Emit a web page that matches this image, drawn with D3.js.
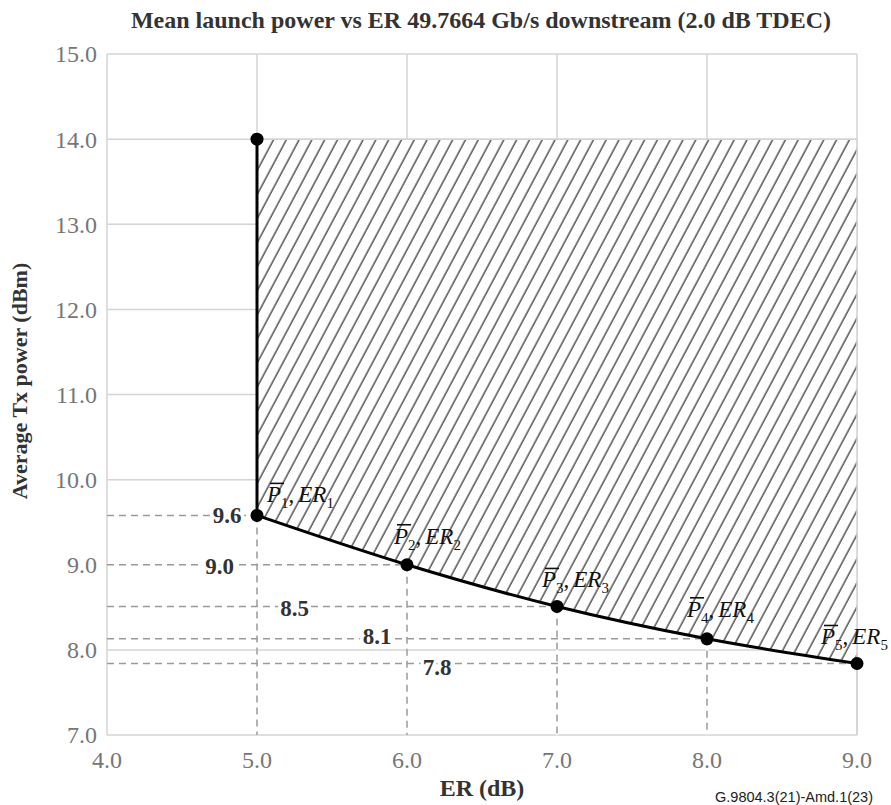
<!DOCTYPE html>
<html lang="en">
<head>
  <meta charset="UTF-8">
  <title>Mean launch power vs ER</title>
  <script src="https://d3js.org/d3.v7.min.js"></script>
  <style>
    body { margin: 0; background: #fff; }
    text { font-family: "Liberation Serif", "Times New Roman", serif; }
  </style>
</head>
<body>
<div class="canvas"></div>
<script>
  // ER (dB) and mean launch power (dBm) of the corner points P1..P5
  const erValues = [5.0, 6.0, 7.0, 8.0, 9.0]
  const powerValues = [9.58, 9.0, 8.51, 8.13, 7.84]
  const powerLabels = ['9.6', '9.0', '8.5', '8.1', '7.8']
  const maxPower = 14.0
  const xTicks = [4, 5, 6, 7, 8, 9]
  const yTicks = [7, 8, 9, 10, 11, 12, 13, 14, 15]

  // where the value labels sit along their dashed guide (in ER units)
  const labelER = [4.8, 4.75, 5.25, 5.8, 6.2]
  const labelDy = [0, 1, 1, -3, 3]
  // offset of each P/ER annotation from its point (px)
  const annOffset = [[10, -13], [-13, -21], [-15, -19], [-20, -22], [-36, -19]]

  const width = 891, height = 805
  const margin = {top: 54, right: 34, bottom: 70, left: 107}
  const gridColor = '#d4d4d4'

  const svg = d3.select('.canvas')
    .append('svg')
    .attr('width', width)
    .attr('height', height)

  const x = d3.scaleLinear().domain([4, 9]).range([margin.left, width - margin.right])
  const y = d3.scaleLinear().domain([7, 15]).range([height - margin.bottom, margin.top])

  // hatch pattern
  svg.append('defs').append('pattern')
    .attr('id', 'hatch')
    .attr('patternUnits', 'userSpaceOnUse')
    .attr('width', 11.3)
    .attr('height', 20)
    .attr('patternTransform', 'rotate(28)')
    .append('line')
    .attr('x1', 2).attr('y1', -5).attr('x2', 2).attr('y2', 25)
    .attr('stroke', '#2a2a2a')
    .attr('stroke-width', 1.2)

  // grid
  svg.append('g').selectAll('line')
    .data(xTicks)
    .enter().append('line')
    .attr('x1', d => x(d)).attr('x2', d => x(d))
    .attr('y1', y(15)).attr('y2', y(7))
    .attr('stroke', gridColor).attr('stroke-width', 1.5)

  svg.append('g').selectAll('line')
    .data(yTicks)
    .enter().append('line')
    .attr('x1', x(4)).attr('x2', x(9))
    .attr('y1', d => y(d)).attr('y2', d => y(d))
    .attr('stroke', gridColor).attr('stroke-width', 1.5)

  // tick labels
  svg.append('g').selectAll('text')
    .data(xTicks)
    .enter().append('text')
    .attr('x', d => x(d))
    .attr('y', y(7) + 33)
    .attr('text-anchor', 'middle')
    .attr('fill', '#767676')
    .style('font-size', '24px')
    .text(d => d3.format('.1f')(d))

  svg.append('g').selectAll('text')
    .data(yTicks)
    .enter().append('text')
    .attr('x', x(4) - 10)
    .attr('y', d => y(d))
    .attr('dy', '0.35em')
    .attr('text-anchor', 'end')
    .attr('fill', '#767676')
    .style('font-size', '24px')
    .text(d => d3.format('.1f')(d))

  const pts = erValues.map((e, i) => ({er: e, p: powerValues[i]}))

  // hatched region above the curve (white under the hatch hides the grid)
  const curve = d3.line().x(d => x(d.er)).y(d => y(d.p)).curve(d3.curveMonotoneX)
  const last = pts[pts.length - 1]
  const areaPath = 'M' + x(erValues[0]) + ',' + y(maxPower) +
    'L' + x(last.er) + ',' + y(maxPower) +
    'L' + x(last.er) + ',' + y(last.p) +
    curve(pts.slice().reverse()).replace(/^M/, 'L') + 'Z'
  svg.append('path').attr('d', areaPath).attr('fill', '#fff')
  svg.append('path').attr('d', areaPath).attr('fill', 'url(#hatch)')
  svg.append('path')
    .attr('d', 'M' + x(erValues[0]) + ',' + y(maxPower) +
      'L' + x(last.er) + ',' + y(maxPower) + 'L' + x(last.er) + ',' + y(7))
    .attr('fill', 'none')
    .attr('stroke', gridColor).attr('stroke-width', 1.5)

  // dashed guides
  function guideLines(g) {
    g.selectAll('.h').data(pts).enter().append('line')
      .attr('x1', x(4)).attr('x2', d => x(d.er))
      .attr('y1', d => y(d.p)).attr('y2', d => y(d.p))
    g.selectAll('.v').data(pts.slice(0, -1)).enter().append('line')
      .attr('x1', d => x(d.er)).attr('x2', d => x(d.er))
      .attr('y1', d => y(d.p)).attr('y2', y(7))
  }
  svg.append('g').attr('stroke', '#fff').attr('stroke-width', 2).call(guideLines)
  svg.append('g')
    .attr('stroke', '#9a9a9a')
    .attr('stroke-width', 1.5)
    .attr('stroke-dasharray', '7,5')
    .call(guideLines)

  // value labels
  svg.append('g').selectAll('text')
    .data(pts)
    .enter().append('text')
    .attr('x', (d, i) => x(labelER[i]))
    .attr('y', (d, i) => y(d.p) + labelDy[i])
    .attr('dy', '0.35em')
    .attr('text-anchor', 'middle')
    .attr('fill', '#333')
    .attr('stroke', '#fff')
    .attr('stroke-width', 7)
    .style('paint-order', 'stroke')
    .style('font-size', '23px')
    .style('font-weight', 'bold')
    .text((d, i) => powerLabels[i])

  // curve line and vertical boundary
  svg.append('line')
    .attr('x1', x(erValues[0])).attr('x2', x(erValues[0]))
    .attr('y1', y(maxPower)).attr('y2', y(powerValues[0]))
    .attr('stroke', '#000').attr('stroke-width', 3)
  svg.append('path')
    .attr('d', curve(pts))
    .attr('fill', 'none')
    .attr('stroke', '#000')
    .attr('stroke-width', 3)

  // points
  svg.append('g').selectAll('circle')
    .data([{er: erValues[0], p: maxPower}].concat(pts))
    .enter().append('circle')
    .attr('cx', d => x(d.er))
    .attr('cy', d => y(d.p))
    .attr('r', 6.5)
    .attr('fill', '#000')

  // P/ER annotations
  const annG = svg.append('g')
  const ann = annG.selectAll('text')
    .data(pts)
    .enter().append('text')
    .attr('x', (d, i) => x(d.er) + annOffset[i][0])
    .attr('y', (d, i) => y(d.p) + annOffset[i][1])
    .attr('fill', '#111')
    .style('font-size', '23px')
  ann.append('tspan').style('font-style', 'italic').text('P')
  ann.append('tspan').attr('dy', 6).style('font-size', '15px').text((d, i) => i + 1)
  ann.append('tspan').attr('dy', -6).text(',')
  ann.append('tspan').attr('dx', 4).style('font-style', 'italic').text('ER')
  ann.append('tspan').attr('dy', 6).style('font-size', '15px').text((d, i) => i + 1)
  // bar over each P
  ann.each(function(d, i) {
    const s = this.getStartPositionOfChar(0)
    const e = this.getEndPositionOfChar(0)
    annG.append('line')
      .attr('x1', s.x + 3).attr('x2', e.x + 3)
      .attr('y1', s.y - 19).attr('y2', s.y - 19)
      .attr('stroke', '#111').attr('stroke-width', 1.6)
  })

  // title and axis titles
  svg.append('text')
    .attr('x', 481).attr('y', 28)
    .attr('text-anchor', 'middle')
    .attr('fill', '#333')
    .style('font-size', '24px').style('font-weight', 'bold')
    .text('Mean launch power vs ER 49.7664 Gb/s downstream (2.0 dB TDEC)')

  svg.append('text')
    .attr('x', (x(4) + x(9)) / 2).attr('y', 796)
    .attr('text-anchor', 'middle')
    .attr('fill', '#333')
    .style('font-size', '24px').style('font-weight', 'bold')
    .text('ER (dB)')

  svg.append('text')
    .attr('transform', 'translate(27, 381) rotate(-90)')
    .attr('text-anchor', 'middle')
    .attr('fill', '#333')
    .style('font-size', '22px').style('font-weight', 'bold')
    .text('Average Tx power (dBm)')

  svg.append('text')
    .attr('x', 873).attr('y', 802)
    .attr('text-anchor', 'end')
    .attr('fill', '#222')
    .style('font-family', '"Liberation Sans", Arial, sans-serif')
    .style('font-size', '14.5px')
    .text('G.9804.3(21)-Amd.1(23)')
</script>
</body>
</html>
